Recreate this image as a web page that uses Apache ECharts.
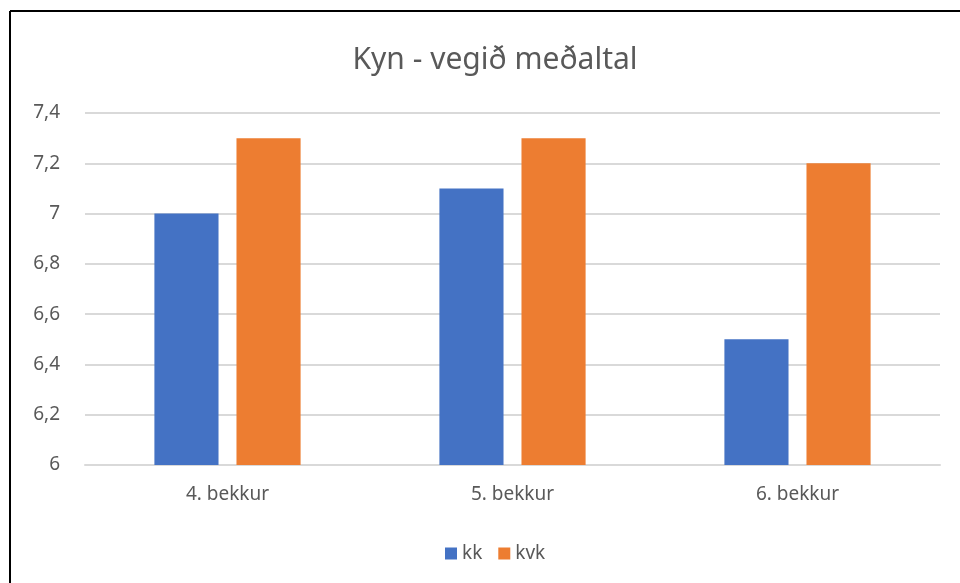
<!DOCTYPE html>
<html lang="is">
<head>
    <meta charset="UTF-8">
    <title>Kyn - vegið meðaltal</title>
    <script src="https://cdn.jsdelivr.net/npm/echarts@6/dist/echarts.min.js"></script>
    <style>
        html, body { margin: 0; padding: 0; background: #fff; }
        #main { width: 960px; height: 583px; }
    </style>
</head>
<body>
<div id="main"></div>
<script>
    // gögn
    const categories = ['4. bekkur', '5. bekkur', '6. bekkur'];
    const kk = [7.0, 7.1, 6.5];
    const kvk = [7.3, 7.3, 7.2];

    const textColor = '#595959';
    const font = 'Noto Sans';

    let myChart = echarts.init(document.getElementById('main'));
    let option = {
        backgroundColor: '#fff',
        textStyle: { fontFamily: font },
        title: {
            text: 'Kyn - vegið meðaltal',
            left: 490,
            textAlign: 'center',
            top: 40,
            textStyle: { fontFamily: font, fontSize: 30, fontWeight: 'normal', color: textColor }
        },
        legend: {
            data: ['kk', 'kvk'],
            left: 440,
            top: 539,
            itemWidth: 12,
            itemHeight: 12,
            itemGap: 16,
            icon: 'rect',
            textStyle: { fontFamily: font, fontSize: 19, color: textColor }
        },
        grid: { left: 85, right: 20, top: 113, bottom: 118 },
        xAxis: {
            type: 'category',
            data: categories,
            axisTick: { show: false },
            axisLine: { lineStyle: { color: '#d9d9d9', width: 2 } },
            axisLabel: { fontSize: 19, color: textColor, margin: 20 }
        },
        yAxis: {
            type: 'value',
            min: 6,
            max: 7.4,
            interval: 0.2,
            axisLabel: {
                fontSize: 19,
                color: textColor,
                margin: 25,
                formatter: v => String(Math.round(v * 10) / 10).replace('.', ',')
            },
            splitLine: { lineStyle: { color: '#d9d9d9', width: 2 } }
        },
        series: [
            {
                name: 'kk',
                type: 'bar',
                data: kk,
                barWidth: '22.5%',
                barGap: '28%',
                itemStyle: { color: '#4472C4' }
            },
            {
                name: 'kvk',
                type: 'bar',
                data: kvk,
                barWidth: '22.5%',
                itemStyle: { color: '#ED7D31' }
            }
        ],
        graphic: [
            { type: 'line', shape: { x1: 10, y1: 11, x2: 960, y2: 11 }, style: { stroke: '#000', lineWidth: 2 } },
            { type: 'line', shape: { x1: 10, y1: 11, x2: 10, y2: 583 }, style: { stroke: '#000', lineWidth: 2 } }
        ]
    };
    myChart.setOption(option);
</script>
</body>
</html>
